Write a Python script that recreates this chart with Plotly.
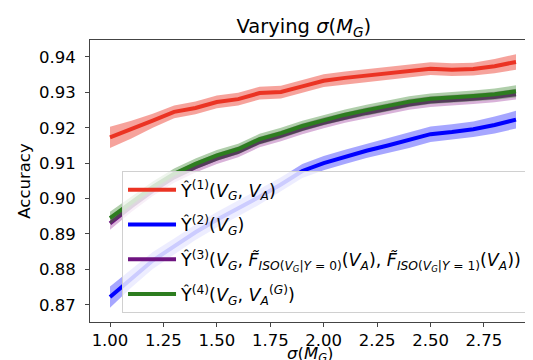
import plotly.graph_objects as go

x_vals = [1.0, 1.1, 1.2, 1.3, 1.4, 1.5, 1.6, 1.7, 1.8, 1.9,
          2.0, 2.1, 2.2, 2.3, 2.4, 2.5, 2.6, 2.7, 2.8, 2.9]

red_mean = [0.9173, 0.9195, 0.9220, 0.9245, 0.9256, 0.9273, 0.9281, 0.9298, 0.9301, 0.9317,
            0.9333, 0.9341, 0.9347, 0.9355, 0.9360, 0.9367, 0.9364, 0.9366, 0.9374, 0.9386]
red_err = [0.0030, 0.0025, 0.0020, 0.0018, 0.0018, 0.0018, 0.0018, 0.0018, 0.0018, 0.0018,
           0.0018, 0.0018, 0.0018, 0.0018, 0.0018, 0.0018, 0.0018, 0.0018, 0.0020, 0.0022]

blue_mean = [0.8722, 0.8775, 0.8825, 0.8865, 0.8905, 0.8940, 0.8972, 0.9005, 0.9040, 0.9078,
             0.9100, 0.9118, 0.9135, 0.9150, 0.9165, 0.9182, 0.9188, 0.9196, 0.9208, 0.9223]
blue_err = [0.0030, 0.0026, 0.0024, 0.0022, 0.0022, 0.0022, 0.0022, 0.0022, 0.0020, 0.0020,
            0.0020, 0.0020, 0.0020, 0.0020, 0.0022, 0.0022, 0.0022, 0.0022, 0.0024, 0.0025]

purple_mean = [0.8930, 0.8978, 0.9022, 0.9060, 0.9089, 0.9113, 0.9132, 0.9160, 0.9177, 0.9197,
               0.9214, 0.9229, 0.9242, 0.9254, 0.9266, 0.9274, 0.9277, 0.9282, 0.9287, 0.9295]
purple_err = [0.0018, 0.0016, 0.0015, 0.0015, 0.0015, 0.0015, 0.0015, 0.0015, 0.0015, 0.0015,
              0.0015, 0.0015, 0.0015, 0.0015, 0.0015, 0.0015, 0.0015, 0.0015, 0.0015, 0.0015]

green_mean = [0.8945, 0.8990, 0.9033, 0.9070, 0.9098, 0.9122, 0.9140, 0.9168, 0.9185, 0.9205,
              0.9222, 0.9237, 0.9250, 0.9262, 0.9274, 0.9282, 0.9285, 0.9290, 0.9295, 0.9303]
green_err = [0.0018, 0.0016, 0.0015, 0.0015, 0.0015, 0.0015, 0.0015, 0.0015, 0.0015, 0.0015,
             0.0015, 0.0015, 0.0015, 0.0015, 0.0015, 0.0015, 0.0015, 0.0015, 0.0016, 0.0017]

x_ticks = [1.00, 1.25, 1.50, 1.75, 2.00, 2.25, 2.50, 2.75]
y_ticks = [0.87, 0.88, 0.89, 0.90, 0.91, 0.92, 0.93, 0.94]

names = [
    "Ŷ<sup>(1)</sup>(<i>V</i><sub><i>G</i></sub>, <i>V</i><sub><i>A</i></sub>)",
    "Ŷ<sup>(2)</sup>(<i>V</i><sub><i>G</i></sub>)",
    "Ŷ<sup>(3)</sup>(<i>V</i><sub><i>G</i></sub>, <i>F̃</i><sub><i>ISO</i>(<i>V</i><sub><i>G</i></sub>|<i>Y</i> = 0)</sub>(<i>V</i><sub><i>A</i></sub>), "
    "<i>F̃</i><sub><i>ISO</i>(<i>V</i><sub><i>G</i></sub>|<i>Y</i> = 1)</sub>(<i>V</i><sub><i>A</i></sub>))",
    "Ŷ<sup>(4)</sup>(<i>V</i><sub><i>G</i></sub>, <i>V</i><sub><i>A</i></sub><sup>(<i>G</i>)</sup>)",
]

series = [
    (red_mean, red_err, "#eb3323", "rgba(235,51,35,0.45)"),
    (blue_mean, blue_err, "#0000ff", "rgba(0,0,255,0.35)"),
    (purple_mean, purple_err, "#6e1480", "rgba(128,0,128,0.30)"),
    (green_mean, green_err, "#2d7d1f", "rgba(45,125,31,0.38)"),
]

fig = go.Figure()
for i, (name, (mean, err, lc, fc)) in enumerate(zip(names, series)):
    upper = [m + e for m, e in zip(mean, err)]
    lower = [m - e for m, e in zip(mean, err)]
    fig.add_trace(go.Scatter(
        x=x_vals + x_vals[::-1], y=upper + lower[::-1],
        fill="toself", fillcolor=fc, line=dict(width=0), mode="lines",
        showlegend=False, hoverinfo="skip", legendgroup=f"g{i}"))
    fig.add_trace(go.Scatter(
        x=x_vals, y=mean, mode="lines", name=name, legendgroup=f"g{i}",
        line=dict(color=lc, width=4)))

axis_common = dict(
    showline=True, linecolor="#444", linewidth=1, mirror=True,
    ticks="outside", ticklen=4, tickcolor="#444", showgrid=False, zeroline=False,
    tickfont=dict(size=16.5, color="black"),
)

fig.update_layout(
    width=533, height=360,
    margin=dict(l=82, r=0, t=32, b=46),
    paper_bgcolor="white", plot_bgcolor="white",
    font=dict(family="DejaVu Sans", color="black"),
    title=dict(text="Varying <i>σ</i>(<i>M</i><sub><i>G</i></sub>)", x=0.555, xanchor="center",
               y=0.95, yanchor="middle", font=dict(size=19.5)),
    xaxis=dict(range=[0.9064, 3.017], tickvals=x_ticks,
               ticktext=[f"{v:.2f}" for v in x_ticks], ticklabelstandoff=-1, **axis_common),
    yaxis=dict(range=[0.86514, 0.9448], tickvals=y_ticks,
               ticktext=[f"{v:.2f}" for v in y_ticks], ticklabelstandoff=6,
               title=dict(text="Accuracy", font=dict(size=16.5), standoff=4),
               **axis_common),
    legend=dict(x=0.071, y=0.5355, xanchor="left", yanchor="top",
                bgcolor="rgba(255,255,255,0.8)", bordercolor="#d0d0d0", borderwidth=1,
                font=dict(size=17.5), tracegroupgap=9, itemwidth=48),
    annotations=[dict(text="<i>σ</i>(<i>M</i><sub><i>G</i></sub>)", xref="paper", yref="paper",
                      x=0.49, y=-0.116, xanchor="center", yanchor="middle",
                      showarrow=False, font=dict(size=16.5))],
    showlegend=True,
)

fig.write_html("out.html")
